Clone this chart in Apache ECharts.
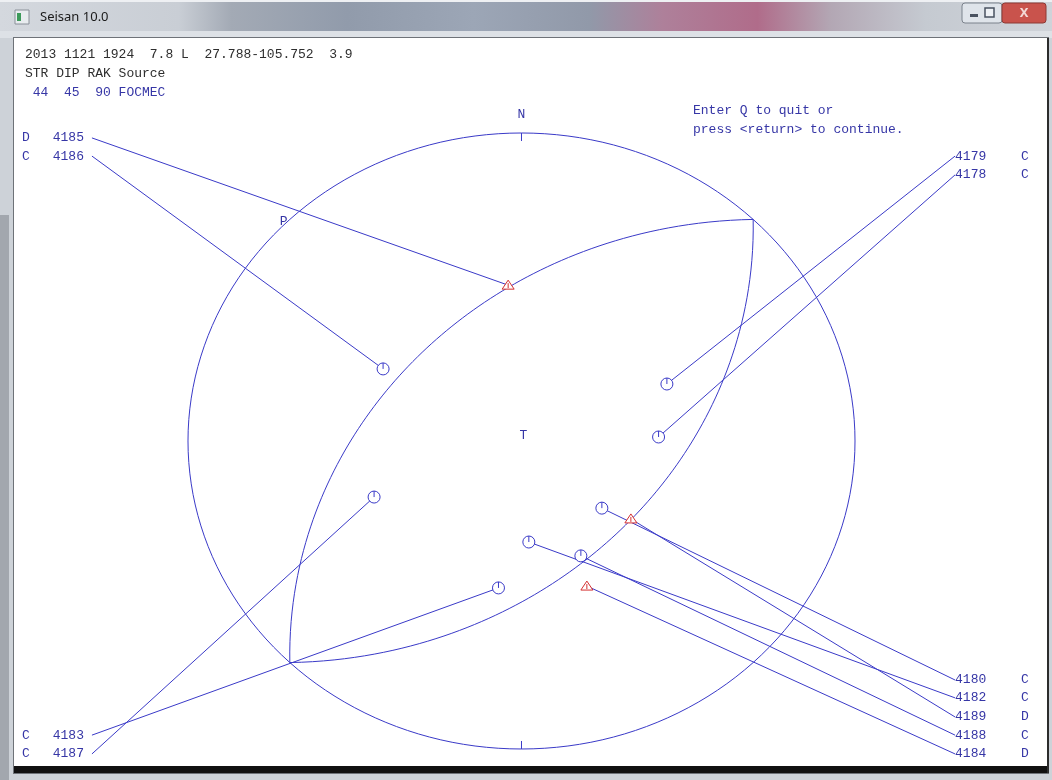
<!DOCTYPE html>
<html>
<head>
<meta charset="utf-8">
<title>Seisan 10.0</title>
<script src="https://cdn.jsdelivr.net/npm/echarts@6/dist/echarts.min.js"></script>
<style>
html, body { margin: 0; padding: 0; background: #fff; }
#chart { width: 1052px; height: 780px; }
</style>
</head>
<body>
<div id="chart"></div>
<script>
// event header and prompt
var headerLine = "2013 1121 1924  7.8 L  27.788-105.752  3.9";
var solutionHead = "STR DIP RAK Source";
var solutionLine = " 44  45  90 FOCMEC";
var promptLines = ["Enter Q to quit or", "press <return> to continue."];

// fault plane solution (plane + auxiliary plane), P and T axes
var planeStrike = [44, 224];
var planeDip = [45, 45];
var axisNames = ["P", "T"];
var axisTrend = [314, 0];
var axisPlunge = [0, 90];

// stations, position on the projected focal sphere (radius 1), polarity
var stationNames = ["4185", "4186", "4179", "4178", "4180", "4182", "4189", "4188", "4184", "4183", "4187"];
var stationX = [-0.040, -0.415, 0.436, 0.411, 0.241, 0.022, 0.328, 0.178, 0.196, -0.069, -0.442];
var stationY = [0.506, 0.234, 0.185, 0.013, -0.218, -0.328, -0.253, -0.373, -0.471, -0.477, -0.182];
var polarity = ["D", "C", "C", "C", "C", "C", "D", "C", "D", "C", "C"];
var labelSide = ["L", "L", "R", "R", "R", "R", "R", "R", "R", "L", "L"];
var labelY = [0.984, 0.925, 0.925, 0.864, -0.776, -0.834, -0.896, -0.955, -1.016, -0.955, -1.016];

// layout
var LABEL_X_LEFT = -1.288, LABEL_X_RIGHT = 1.300;
var LINE_COLOR = "#3a3ac8";
var TEXT_BLUE = "#3636a6";
var RED = "#d43030";
var MONO = '13px "Liberation Mono", "DejaVu Sans Mono", monospace';

// lower hemisphere stereographic projection
function project(trend, plunge) {
  var r = Math.tan((90 - plunge) * Math.PI / 360);
  var t = trend * Math.PI / 180;
  return [r * Math.sin(t), r * Math.cos(t)];
}
function planeTrace(s, d) {
  var pts = [];
  var dr = d * Math.PI / 180;
  for (var k = 0; k <= 180; k += 2) {
    var l = k * Math.PI / 180;
    var plunge = Math.asin(Math.sin(dr) * Math.sin(l)) * 180 / Math.PI;
    var trend = s + Math.atan2(Math.cos(dr) * Math.sin(l), Math.cos(l)) * 180 / Math.PI;
    pts.push(project(trend, plunge));
  }
  return pts;
}

var myChart = echarts.init(document.getElementById("chart"));

var titleGradient = {
  type: "linear", x: 0, y: 0, x2: 1, y2: 0,
  colorStops: [
    { offset: 0, color: "#d4d8de" },
    { offset: 0.17, color: "#c9ced5" },
    { offset: 0.22, color: "#a3aab5" },
    { offset: 0.33, color: "#919bab" },
    { offset: 0.45, color: "#9ca6b6" },
    { offset: 0.56, color: "#9199a9" },
    { offset: 0.63, color: "#ae809a" },
    { offset: 0.72, color: "#b06c8a" },
    { offset: 0.79, color: "#b3a7b4" },
    { offset: 0.88, color: "#c5cad1" },
    { offset: 1, color: "#cfd3d9" }
  ]
};

var series = [];

// focal sphere outline, N/S ticks, N label
series.push({
  type: "custom",
  coordinateSystem: "cartesian2d",
  silent: true,
  z: 2,
  data: [[0, 0]],
  renderItem: function (params, api) {
    var pts = [];
    for (var a = 0; a <= 360; a += 2) {
      var t = a * Math.PI / 180;
      pts.push(api.coord([Math.sin(t), Math.cos(t)]));
    }
    var n = api.coord([0, 1]);
    var s = api.coord([0, -1]);
    return {
      type: "group",
      children: [
        { type: "polyline", shape: { points: pts }, style: { stroke: LINE_COLOR, fill: null, lineWidth: 1 } },
        { type: "line", shape: { x1: n[0], y1: n[1], x2: n[0], y2: n[1] + 8 }, style: { stroke: LINE_COLOR, lineWidth: 1 } },
        { type: "line", shape: { x1: s[0], y1: s[1], x2: s[0], y2: s[1] - 8 }, style: { stroke: LINE_COLOR, lineWidth: 1 } },
        { type: "text", x: n[0], y: n[1] - 18, style: { text: "N", font: MONO, fill: TEXT_BLUE, align: "center", verticalAlign: "middle" } }
      ]
    };
  }
});

// nodal planes
for (var p = 0; p < planeStrike.length; p++) {
  series.push({
    type: "line",
    data: planeTrace(planeStrike[p], planeDip[p]),
    symbol: "none",
    silent: true,
    z: 3,
    lineStyle: { color: LINE_COLOR, width: 1 }
  });
}

// station leader lines and labels
series.push({
  type: "custom",
  coordinateSystem: "cartesian2d",
  silent: true,
  z: 4,
  data: stationNames.map(function (n, i) { return [stationX[i], stationY[i], i]; }),
  renderItem: function (params, api) {
    var i = api.value(2);
    var left = labelSide[i] === "L";
    var a = api.coord([left ? LABEL_X_LEFT : LABEL_X_RIGHT, labelY[i]]);
    var s = api.coord([api.value(0), api.value(1)]);
    var txt = function (x, str, align) {
      return { type: "text", x: x, y: a[1], style: { text: str, font: MONO, fill: TEXT_BLUE, align: align, verticalAlign: "middle" } };
    };
    return {
      type: "group",
      children: [
        { type: "line", shape: { x1: a[0], y1: a[1], x2: s[0], y2: s[1] }, style: { stroke: LINE_COLOR, lineWidth: 1 } },
        left ? txt(a[0] - 8, stationNames[i], "right") : txt(a[0], stationNames[i], "left"),
        left ? txt(a[0] - 70, polarity[i], "left") : txt(a[0] + 66, polarity[i], "left")
      ]
    };
  }
});

// polarity symbols
series.push({
  type: "custom",
  coordinateSystem: "cartesian2d",
  silent: true,
  z: 5,
  data: stationNames.map(function (n, i) { return [stationX[i], stationY[i], i]; }),
  renderItem: function (params, api) {
    var i = api.value(2);
    var c = api.coord([api.value(0), api.value(1)]);
    if (polarity[i] === "C") {
      return {
        type: "group",
        children: [
          { type: "circle", shape: { cx: c[0], cy: c[1], r: 6 }, style: { fill: "#fff", stroke: LINE_COLOR, lineWidth: 1 } },
          { type: "line", shape: { x1: c[0], y1: c[1], x2: c[0], y2: c[1] - 6 }, style: { stroke: LINE_COLOR, lineWidth: 1 } }
        ]
      };
    }
    return {
      type: "group",
      children: [
        { type: "polygon", shape: { points: [[c[0], c[1] - 5], [c[0] + 6, c[1] + 4], [c[0] - 6, c[1] + 4]] }, style: { fill: "#fff", stroke: RED, lineWidth: 1 } },
        { type: "line", shape: { x1: c[0], y1: c[1] - 2, x2: c[0], y2: c[1] + 3 }, style: { stroke: RED, lineWidth: 1 } }
      ]
    };
  }
});

// P and T axis labels
series.push({
  type: "custom",
  coordinateSystem: "cartesian2d",
  silent: true,
  z: 5,
  data: axisNames.map(function (n, i) { var q = project(axisTrend[i], axisPlunge[i]); return [q[0], q[1], i]; }),
  renderItem: function (params, api) {
    var c = api.coord([api.value(0), api.value(1)]);
    return { type: "text", x: c[0] + 2, y: c[1] - 5, style: { text: axisNames[api.value(2)], font: MONO, fill: TEXT_BLUE, align: "center", verticalAlign: "middle" } };
  }
});

var headText = function (x, y, str, color) {
  return { type: "text", x: x, y: y, z: 10, style: { text: str, font: MONO, fill: color, align: "left", verticalAlign: "middle" } };
};

var option = {
  animation: false,
  backgroundColor: "#cfd4da",
  grid: { left: 14, top: 38, width: 1032, height: 728 },
  xAxis: { type: "value", min: -1.5217, max: 1.5727, show: false },
  yAxis: { type: "value", min: -1.0552, max: 1.3084, show: false },
  graphic: [
    // window frame
    { type: "rect", z: -20, shape: { x: 0, y: 0, width: 1052, height: 780 }, style: { fill: "#cdd2d8" } },
    { type: "rect", z: -19, shape: { x: 0, y: 215, width: 9, height: 565 }, style: { fill: "#a2a7ae" } },
    { type: "rect", z: -19, shape: { x: 0, y: 0, width: 1052, height: 31 }, style: { fill: titleGradient } },
    { type: "rect", z: -19, shape: { x: 0, y: 0, width: 1052, height: 2 }, style: { fill: "#eef0f3" } },
    { type: "rect", z: -19, shape: { x: 0, y: 31, width: 1052, height: 7 }, style: { fill: "#dde1e6" } },
    { type: "rect", z: -18, shape: { x: 13, y: 37, width: 1036, height: 737 }, style: { fill: "#6e7278" } },
    { type: "rect", z: -17, shape: { x: 14, y: 38, width: 1033, height: 728 }, style: { fill: "#ffffff" } },
    { type: "rect", z: -17, shape: { x: 14, y: 766, width: 1035, height: 7 }, style: { fill: "#111111" } },
    { type: "rect", z: -17, shape: { x: 1047, y: 38, width: 2, height: 735 }, style: { fill: "#2c2c2c" } },
    // title bar icon, text, buttons
    { type: "rect", z: -16, shape: { x: 15, y: 10, width: 14, height: 14 }, style: { fill: "#e8ecef", stroke: "#8a9099", lineWidth: 1 } },
    { type: "rect", z: -16, shape: { x: 17, y: 13, width: 4, height: 8 }, style: { fill: "#3c9a5a" } },
    { type: "text", z: -16, x: 40, y: 17, style: { text: "Seisan 10.0", font: '13px "Noto Sans", sans-serif', fill: "#1a1a1a", align: "left", verticalAlign: "middle" } },
    { type: "rect", z: -16, shape: { x: 962, y: 3, width: 40, height: 20, r: 3 }, style: { fill: "#dfe4ea", stroke: "#7b828c", lineWidth: 1 } },
    { type: "rect", z: -15, shape: { x: 970, y: 14, width: 8, height: 3 }, style: { fill: "#4a5260" } },
    { type: "rect", z: -15, shape: { x: 985, y: 8, width: 9, height: 9 }, style: { fill: "#eef1f5", stroke: "#4a5260", lineWidth: 1.5 } },
    { type: "rect", z: -16, shape: { x: 1002, y: 3, width: 44, height: 20, r: 3 }, style: { fill: "#c9534c", stroke: "#8c3a35", lineWidth: 1 } },
    { type: "text", z: -15, x: 1024, y: 13, style: { text: "X", font: 'bold 13px "Noto Sans", sans-serif', fill: "#f3d9d6", align: "center", verticalAlign: "middle" } },
    // header text
    headText(25, 55, headerLine, "#2e2e2e"),
    headText(25, 74, solutionHead, "#2e2e2e"),
    headText(25, 93, solutionLine, TEXT_BLUE),
    headText(693, 111, promptLines[0], TEXT_BLUE),
    headText(693, 130, promptLines[1], TEXT_BLUE)
  ],
  series: series
};

myChart.setOption(option);
</script>
</body>
</html>
